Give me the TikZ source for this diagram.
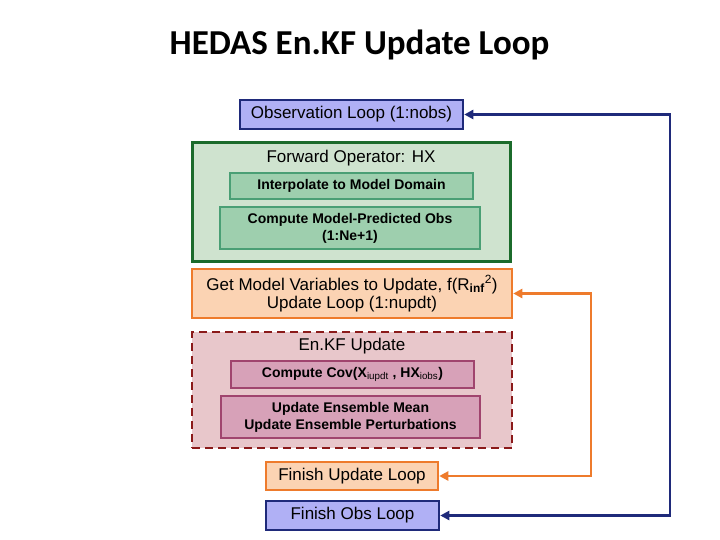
\documentclass[tikz,border=0pt]{standalone}
\usepackage{fontspec}
\setmainfont{Liberation Sans}
\newfontfamily\titlefont{Carlito}
\usetikzlibrary{arrows.meta}

\definecolor{obsfill}{HTML}{B0B0F5}
\definecolor{obsline}{HTML}{1F2A7A}
\definecolor{updfill}{HTML}{FBD3B3}
\definecolor{updline}{HTML}{EE7B2C}
\definecolor{fwdfill}{HTML}{CFE3CF}
\definecolor{fwdline}{HTML}{1B6B2B}
\definecolor{subfill}{HTML}{9ECFAE}
\definecolor{subline}{HTML}{4A9F75}
\definecolor{kffill}{HTML}{E8C7CB}
\definecolor{kfline}{HTML}{8B1A1A}
\definecolor{kfsubfill}{HTML}{D7A1B8}
\definecolor{kfsubline}{HTML}{A0446E}

\tikzset{
  obsbox/.style={draw=obsline,fill=obsfill,line width=2.5pt,font=\fontsize{17}{18}\selectfont},
  updbox/.style={draw=updline,fill=updfill,line width=2.5pt,font=\fontsize{17}{18}\selectfont,align=center},
  fwdbox/.style={draw=fwdline,fill=fwdfill,line width=3pt},
  subbox/.style={draw=subline,fill=subfill,line width=2.5pt,font=\fontsize{14}{17}\selectfont\bfseries,align=center},
  kfbox/.style={draw=kfline,fill=kffill,line width=2.5pt,dash pattern=on 8pt off 5pt},
  kfsubbox/.style={draw=kfsubline,fill=kfsubfill,line width=2.5pt,font=\fontsize{14}{17}\selectfont\bfseries,align=center},
  headtext/.style={font=\fontsize{17}{18}\selectfont},
  loopline/.style={line width=2.5pt,{Triangle[length=9pt,width=9pt]}-{Triangle[length=9pt,width=9pt]}}
}

\begin{document}
\begin{tikzpicture}[x=1pt,y=-1pt]
            \useasboundingbox (0,0) rectangle (720,540);
            \node (title) at (359.5,45) {\titlefont\bfseries\fontsize{35}{40}\selectfont HEDAS En.KF Update Loop};

            \node[obsbox,minimum width=223pt,minimum height=29pt] (obs) at (351.5,114.5) {Observation Loop (1:nobs)};

            \node[fwdbox,minimum width=318pt,minimum height=118pt] (fwd) at (351,202) {};
            \node[headtext] (fwdtitle) at (351,158) {Forward Operator: HX};
            \node[subbox,minimum width=243pt,minimum height=26pt] (interp) at (351.5,186) {Interpolate to Model Domain};
            \node[subbox,minimum width=260pt,minimum height=42pt] (predobs) at (350,228) {Compute Model-Predicted Obs\\(1:Ne+1)};

            \node[updbox,minimum width=320pt,minimum height=49pt] (getvars) at (352,293.5)
              {Get Model Variables to Update, f(R\textsubscript{\bfseries inf}\textsuperscript{2})\\Update Loop (1:nupdt)};

            \node[kfbox,minimum width=320pt,minimum height=116pt] (enkf) at (352,390) {};
            \node[headtext] (enkftitle) at (352,346) {En.KF Update};
            \node[kfsubbox,minimum width=243pt,minimum height=27pt] (cov) at (352.5,374.5)
              {Compute Cov(X\textsubscript{\mdseries iupdt} , HX\textsubscript{\mdseries iobs})};
            \node[kfsubbox,minimum width=259pt,minimum height=42pt] (ensupd) at (350.5,417)
              {Update Ensemble Mean\\Update Ensemble Perturbations};

            \node[updbox,minimum width=172pt,minimum height=28pt] (finupd) at (352,476) {Finish Update Loop};
            \node[obsbox,minimum width=173pt,minimum height=29pt] (finobs) at (352.5,515.5) {Finish Obs Loop};

            \draw[loopline,updline] (getvars.east) -- (591,293.5) |- (finupd.east);
            \draw[loopline,obsline] (obs.east) -- (670,114.5) |- (finobs.east);
\end{tikzpicture}
\end{document}
